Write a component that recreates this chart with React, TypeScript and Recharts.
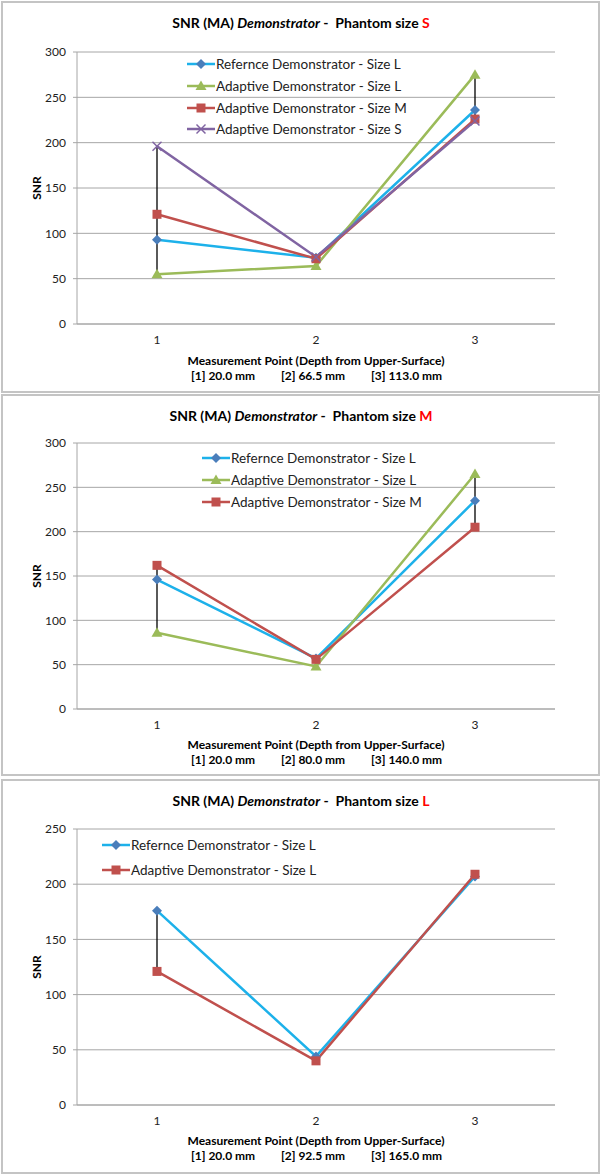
import React from "react";
import { LineChart, Line, XAxis, YAxis, CartesianGrid, ErrorBar } from "recharts";

const POINTS = ["1", "2", "3"];

// Phantom size S
const S_REF_L = [93, 73, 236];
const S_ADA_L = [55, 64, 275];
const S_ADA_M = [121, 72, 226];
const S_ADA_S = [196, 74, 224];
const S_DEPTHS = ["[1] 20.0 mm", "[2] 66.5 mm", "[3] 113.0 mm"];

// Phantom size M
const M_REF_L = [146, 57, 235];
const M_ADA_L = [86, 48, 265];
const M_ADA_M = [162, 56, 205];
const M_DEPTHS = ["[1] 20.0 mm", "[2] 80.0 mm", "[3] 140.0 mm"];

// Phantom size L
const L_REF_L = [176, 44, 207];
const L_ADA_L = [121, 40, 209];
const L_DEPTHS = ["[1] 20.0 mm", "[2] 92.5 mm", "[3] 165.0 mm"];

const TICKS_300 = [0, 50, 100, 150, 200, 250, 300];
const TICKS_250 = [0, 50, 100, 150, 200, 250];

const FONT = "Lato, 'Open Sans', sans-serif";
const GRID = "#a6a6a6";

type Shape = "diamond" | "triangle" | "square" | "cross";
type Style = { line: string; fill: string; shape: Shape };

const REF_BLUE: Style = { line: "#1db1ea", fill: "#4a7ebb", shape: "diamond" };
const GREEN: Style = { line: "#9bbb59", fill: "#9bbb59", shape: "triangle" };
const RED: Style = { line: "#c0504d", fill: "#c0504d", shape: "square" };
const PURPLE: Style = { line: "#8064a2", fill: "#8064a2", shape: "cross" };

type Series = { name: string; values: number[]; style: Style };

function Marker({ cx, cy, style }: { cx: number; cy: number; style: Style }) {
  if (cx == null || cy == null) return null;
  const f = style.fill;
  if (style.shape === "diamond")
    return <polygon points={`${cx},${cy - 5} ${cx + 5},${cy} ${cx},${cy + 5} ${cx - 5},${cy}`} fill={f} />;
  if (style.shape === "triangle")
    return <polygon points={`${cx},${cy - 5.5} ${cx + 5.5},${cy + 4} ${cx - 5.5},${cy + 4}`} fill={f} />;
  if (style.shape === "square")
    return <rect x={cx - 4.5} y={cy - 4.5} width={9} height={9} fill={f} />;
  return (
    <g stroke={f} strokeWidth={1.5}>
      <line x1={cx - 4.5} y1={cy - 4.5} x2={cx + 4.5} y2={cy + 4.5} />
      <line x1={cx - 4.5} y1={cy + 4.5} x2={cx + 4.5} y2={cy - 4.5} />
    </g>
  );
}

type PanelProps = {
  letter: string;
  series: Series[];
  ticks: number[];
  depths: string[];
  boxTop: number;
  boxHeight: number;
  titleY: number;
  gridTop: number;
  zeroY: number;
  axisY: number;
  depthY: number;
  legendX: number;
  legendY: number[];
};

function Panel(p: PanelProps) {
  const yMax = p.ticks[p.ticks.length - 1];
  const data = POINTS.map((x, i) => {
    const row: any = { x };
    const vals = p.series.map((s) => s.values[i]);
    p.series.forEach((s, k) => (row["s" + k] = s.values[i]));
    const lo = Math.min(...vals);
    const hi = Math.max(...vals);
    row.lo = lo;
    row.hl = [0, hi - lo];
    return row;
  });
  const chartTop = p.gridTop - 10;
  const chartH = p.zeroY - p.gridTop + 10 + 30;
  const abs = (x: number, y: number): React.CSSProperties => ({
    position: "absolute",
    left: x,
    top: y,
    transform: "translate(-50%, -50%)",
    whiteSpace: "pre",
    fontFamily: FONT,
    color: "#000",
  });
  const depthX = [191, 281, 371];
  return (
    <>
      <div
        style={{
          position: "absolute",
          left: 1,
          top: p.boxTop,
          width: 599,
          height: p.boxHeight,
          boxSizing: "border-box",
          border: "2px solid #c4c4c4",
          background: "#fff",
        }}
      />
      <div style={{ ...abs(301, p.titleY), fontSize: 14, fontWeight: 700 }}>
        SNR (MA) <i>Demonstrator</i> -  Phantom size <span style={{ color: "#ff0000" }}>{p.letter}</span>
      </div>
      <div style={{ position: "absolute", left: 0, top: chartTop }}>
        <LineChart width={602} height={chartH} data={data} margin={{ top: 10, right: 47, bottom: 0, left: 0 }}>
          <CartesianGrid vertical={false} stroke={GRID} strokeWidth={1} />
          <XAxis
            dataKey="x"
            height={30}
            padding={{ left: 80, right: 80 }}
            axisLine={{ stroke: GRID }}
            tickLine={false}
            tickSize={0}
            tickMargin={11}
            tick={{ fontSize: 12, fill: "#222", fontFamily: FONT }}
          />
          <YAxis
            width={77}
            domain={[0, yMax]}
            ticks={p.ticks}
            interval={0}
            allowDataOverflow
            axisLine={{ stroke: GRID }}
            tickLine={{ stroke: GRID }}
            tickSize={4}
            tickMargin={7}
            tick={{ fontSize: 12, fill: "#222", fontFamily: FONT }}
          />
          <Line dataKey="lo" stroke="none" dot={false} activeDot={false} isAnimationActive={false} legendType="none">
            <ErrorBar dataKey="hl" width={0} stroke="#000" strokeWidth={1.3} direction="y" />
          </Line>
          {p.series.map((s, k) => (
            <Line
              key={s.name}
              dataKey={"s" + k}
              name={s.name}
              stroke={s.style.line}
              strokeWidth={2.5}
              isAnimationActive={false}
              activeDot={false}
              dot={(d: any) => <Marker key={k + "-" + d.index} cx={d.cx} cy={d.cy} style={s.style} />}
            />
          ))}
        </LineChart>
      </div>
      <div
        style={{
          ...abs(36, (p.gridTop + p.zeroY) / 2),
          transform: "translate(-50%, -50%) rotate(-90deg)",
          fontSize: 12,
          fontWeight: 700,
        }}
      >
        SNR
      </div>
      <div style={{ ...abs(316, p.axisY), fontSize: 12, fontWeight: 700 }}>
        Measurement Point (Depth from Upper-Surface)
      </div>
      {p.depths.map((d, i) => (
        <div
          key={d}
          style={{ ...abs(depthX[i], p.depthY), transform: "translate(0, -50%)", fontSize: 12, fontWeight: 700 }}
        >
          {d}
        </div>
      ))}
      {p.series.map((s, k) => (
        <div
          key={s.name}
          style={{
            position: "absolute",
            left: p.legendX,
            top: p.legendY[k] - 9,
            height: 18,
            display: "flex",
            alignItems: "center",
            fontFamily: FONT,
            fontSize: 13.5,
            whiteSpace: "pre",
            color: "#222",
          }}
        >
          <svg width={28} height={16} style={{ display: "block" }}>
            <line x1={0} y1={8} x2={28} y2={8} stroke={s.style.line} strokeWidth={2.5} />
            <Marker cx={14} cy={8} style={s.style} />
          </svg>
          <span style={{ marginLeft: 1 }}>{s.name}</span>
        </div>
      ))}
    </>
  );
}

export default function App() {
  return (
    <div style={{ position: "absolute", left: 0, top: 0, width: 602, height: 1176, background: "#fff" }}>
      <Panel
        letter="S"
        series={[
          { name: "Refernce Demonstrator - Size L", values: S_REF_L, style: REF_BLUE },
          { name: "Adaptive Demonstrator - Size L", values: S_ADA_L, style: GREEN },
          { name: "Adaptive Demonstrator - Size M", values: S_ADA_M, style: RED },
          { name: "Adaptive Demonstrator - Size S", values: S_ADA_S, style: PURPLE },
        ]}
        ticks={TICKS_300}
        depths={S_DEPTHS}
        boxTop={1}
        boxHeight={392}
        titleY={22}
        gridTop={52}
        zeroY={324}
        axisY={360}
        depthY={375}
        legendX={187}
        legendY={[64, 86, 108, 129]}
      />
      <Panel
        letter="M"
        series={[
          { name: "Refernce Demonstrator - Size L", values: M_REF_L, style: REF_BLUE },
          { name: "Adaptive Demonstrator - Size L", values: M_ADA_L, style: GREEN },
          { name: "Adaptive Demonstrator - Size M", values: M_ADA_M, style: RED },
        ]}
        ticks={TICKS_300}
        depths={M_DEPTHS}
        boxTop={394}
        boxHeight={382}
        titleY={415}
        gridTop={443}
        zeroY={709}
        axisY={744}
        depthY={759}
        legendX={202}
        legendY={[458, 480, 502]}
      />
      <Panel
        letter="L"
        series={[
          { name: "Refernce Demonstrator - Size L", values: L_REF_L, style: REF_BLUE },
          { name: "Adaptive Demonstrator - Size L", values: L_ADA_L, style: RED },
        ]}
        ticks={TICKS_250}
        depths={L_DEPTHS}
        boxTop={779}
        boxHeight={395}
        titleY={800}
        gridTop={829}
        zeroY={1105}
        axisY={1140}
        depthY={1155}
        legendX={102}
        legendY={[845, 870]}
      />
    </div>
  );
}
